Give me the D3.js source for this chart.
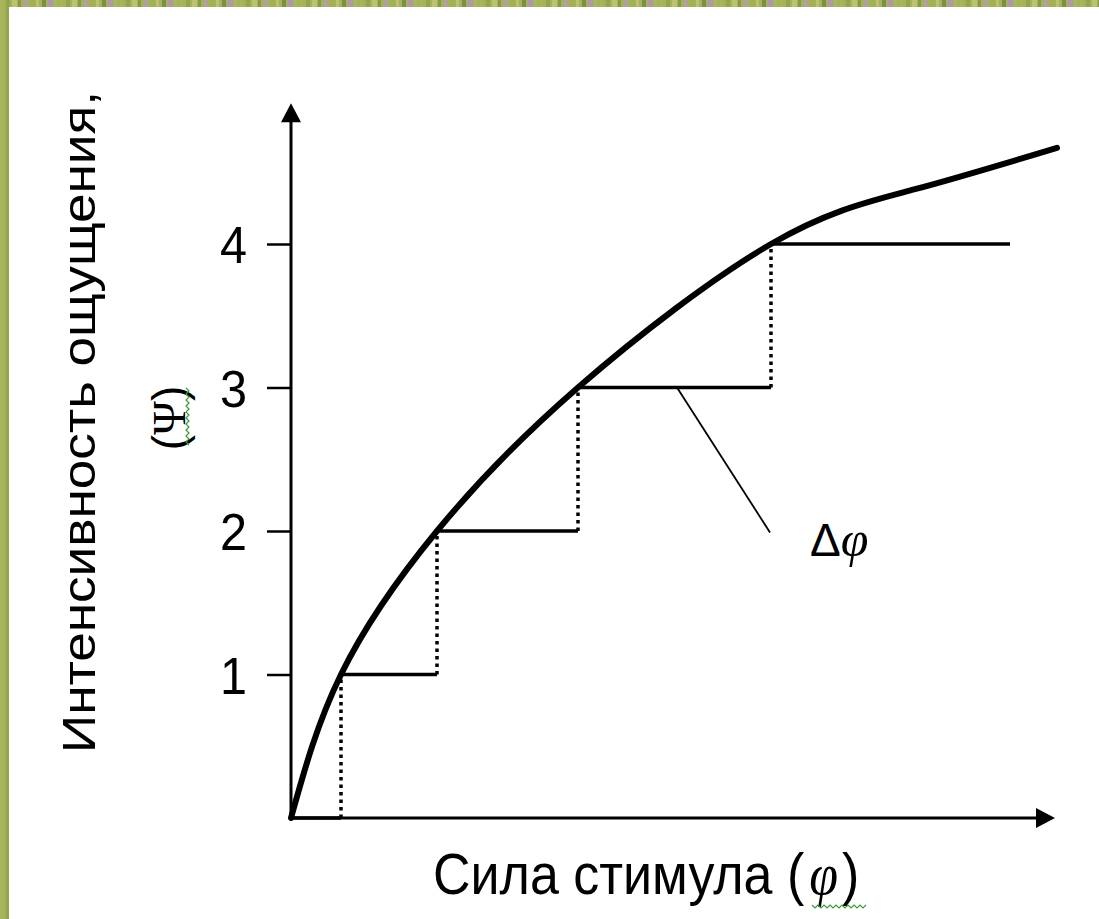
<!DOCTYPE html>
<html><head><meta charset="utf-8">
<script src="https://cdn.jsdelivr.net/npm/d3@7"></script>
<style>html,body{margin:0;padding:0;overflow:hidden;background:#fff}</style>
</head><body><svg id="c" width="1099" height="919"></svg>
<script>
// ---- data ----
const tickValues = [1, 2, 3, 4];
const tickLabels = ["1", "2", "3", "4"];
// sensation curve points: stimulus φ, sensation Ψ
const curvePhi = [0, 0.5, 1.46, 2.87, 4.8, 6.23, 7.66];
const curvePsi = [0, 1.0, 2.0, 3.0, 4.0, 4.38, 4.67];
// step thresholds: stimulus where sensation reaches each level
const stepPhi = [0, 0.50, 1.46, 2.87, 4.80];
const stepPsi = [0, 1, 2, 3, 4];
const lastStepEnd = 7.19;
const xLabel = "Сила стимула (", xLabelPhi = "φ", xLabelEnd = ")";
const yLabel = "Интенсивность ощущения,";
const deltaLabel = "Δ", deltaPhi = "φ";

const svg = d3.select("#c");
const W = 1099, H = 919;

// background texture
const bgCols = ["#a9b55a","#8fa34a","#c2c774","#7f9444","#b59bb2","#9fb152","#c6c27a","#6f8740","#b88fbf","#aab860"];
const defs = svg.append("defs");
const pat = defs.append("pattern").attr("id","grass").attr("patternUnits","userSpaceOnUse")
  .attr("width", 60).attr("height", 60);
pat.append("rect").attr("width",60).attr("height",60).attr("fill","#a4b25a");
bgCols.forEach((c,i)=>{
  pat.append("rect").attr("x", i*6).attr("y", 0).attr("width", 3 + (i%3)).attr("height", 60)
    .attr("fill", c).attr("opacity", 0.8);
});
svg.append("rect").attr("width", W).attr("height", H).attr("fill", "url(#grass)");
svg.append("rect").attr("x", 9).attr("y", 7).attr("width", W - 9).attr("height", H - 7).attr("fill", "#fff");

// scales
const x = d3.scaleLinear().domain([0, 7.64]).range([291, 1055]);
const y = d3.scaleLinear().domain([0, 4]).range([818, 244]);
const xMax = 7.64, yMax = 4.98;

const g = svg.append("g");

// axes lines
g.append("line").attr("x1", x(0)).attr("x2", x(xMax) - 10).attr("y1", y(0)).attr("y2", y(0))
  .attr("stroke", "#000").attr("stroke-width", 3);
g.append("line").attr("x1", x(0)).attr("x2", x(0)).attr("y1", y(0)).attr("y2", y(yMax) + 10)
  .attr("stroke", "#000").attr("stroke-width", 3);
// arrowheads
g.append("path").attr("d", `M${x(xMax)},${y(0)} L${x(xMax)-19},${y(0)-10} L${x(xMax)-19},${y(0)+10} Z`).attr("fill","#000");
g.append("path").attr("d", `M${x(0)},${y(yMax)} L${x(0)-10},${y(yMax)+19} L${x(0)+10},${y(yMax)+19} Z`).attr("fill","#000");

// y axis ticks
const yAxis = d3.axisLeft(y).tickValues(tickValues).tickFormat((d,i)=>tickLabels[i]).tickSize(24).tickPadding(20);
const ya = g.append("g").attr("transform", `translate(${x(0)},0)`).call(yAxis);
ya.select(".domain").remove();
ya.selectAll(".tick line").attr("stroke", "#000").attr("stroke-width", 2.5);
ya.selectAll(".tick text").attr("font-family", "Liberation Sans, Arial, sans-serif")
  .attr("font-size", 52).attr("fill", "#000").attr("dy", "0.36em")
  .attr("textLength", 27).attr("lengthAdjust", "spacingAndGlyphs");

// steps: horizontal solid, vertical dotted
for (let i = 0; i < stepPsi.length; i++) {
  const x0 = stepPhi[i];
  const x1 = i + 1 < stepPhi.length ? stepPhi[i + 1] : lastStepEnd;
  g.append("line").attr("x1", x(x0)).attr("x2", x(x1)).attr("y1", y(stepPsi[i])).attr("y2", y(stepPsi[i]))
    .attr("stroke", "#000").attr("stroke-width", 3.5);
  if (i + 1 < stepPhi.length) {
    g.append("line").attr("x1", x(x1)).attr("x2", x(x1)).attr("y1", y(stepPsi[i])).attr("y2", y(stepPsi[i + 1]))
      .attr("stroke", "#000").attr("stroke-width", 3.5).attr("stroke-dasharray", "3.5,4");
  }
}

// curve
const pts = curvePhi.map((p, i) => [p, curvePsi[i]]);
const line = d3.line().x(d => x(d[0])).y(d => y(d[1])).curve(d3.curveNatural);
g.append("path").attr("d", line(pts)).attr("fill", "none").attr("stroke", "#000")
  .attr("stroke-width", 6).attr("stroke-linecap", "round").attr("stroke-linejoin", "round");

// leader line to Δφ
g.append("line").attr("x1", x(3.86)).attr("y1", y(3)).attr("x2", x(4.79)).attr("y2", y(1.99))
  .attr("stroke", "#000").attr("stroke-width", 1.8);
const dt = g.append("text").attr("x", 810).attr("y", 556).attr("font-size", 50)
  .attr("font-family", "Liberation Sans, Arial, sans-serif").attr("fill", "#000");
dt.append("tspan").text(deltaLabel).attr("font-size", 46);
dt.append("tspan").text(deltaPhi).attr("font-style", "italic").attr("font-family", "Liberation Serif, serif");

// x label
const xl = g.append("text").attr("transform", "translate(433,894) scale(1,1.12)").attr("font-size", 52)
  .attr("font-family", "Liberation Sans, Arial, sans-serif").attr("fill", "#000");
xl.append("tspan").text(xLabel);
xl.append("tspan").text(xLabelPhi).attr("dx", 5).attr("font-style", "italic").attr("font-family", "Liberation Serif, serif");
xl.append("tspan").text(xLabelEnd).attr("dx", 4);

// spell-check squiggle helper
function squiggle(x0, y0, len, vertical) {
  let d = `M${x0},${y0}`;
  for (let k = 0; k <= len; k += 3) {
    const off = (k / 3) % 2 === 0 ? 0 : 3;
    d += vertical ? ` L${x0 + off},${y0 + k}` : ` L${x0 + k},${y0 + off}`;
  }
  g.append("path").attr("d", d).attr("fill", "none").attr("stroke", "#3c9a3c").attr("stroke-width", 1.2);
}
squiggle(812, 905, 54, false);

// y label (rotated)
g.append("text").attr("transform", "translate(95,753) rotate(-90)")
  .attr("font-size", 46).attr("font-family", "Liberation Sans, Arial, sans-serif").attr("fill", "#000")
  .attr("textLength", 662).attr("lengthAdjust", "spacingAndGlyphs").text(yLabel);
const yl2 = g.append("text").attr("transform", "translate(185,418) rotate(-90)")
  .attr("font-size", 46).attr("text-anchor", "middle").attr("fill", "#000")
  .attr("font-family", "Liberation Sans, Arial, sans-serif");
yl2.append("tspan").text("(");
yl2.append("tspan").text("Ψ").attr("font-family", "Liberation Serif, serif");
yl2.append("tspan").text(")");
squiggle(186, 388, 58, true);
</script></body></html>
